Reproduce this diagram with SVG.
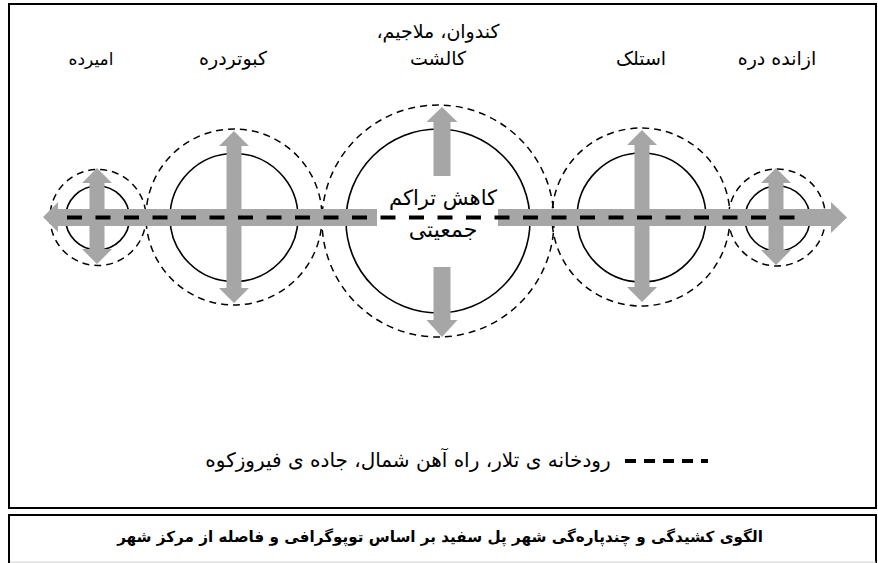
<svg xmlns="http://www.w3.org/2000/svg" width="878" height="563" viewBox="0 0 878 563">
<style>
.bg{fill:#ffffff}
.frame{fill:none;stroke:#000;stroke-width:2}
.dc{fill:none;stroke:#000;stroke-width:1.5;stroke-dasharray:7 5}
.sc{fill:none;stroke:#000;stroke-width:1.6}
.ar{fill:#a6a6a6;stroke:none}
.road{fill:none;stroke:#000;stroke-width:4;stroke-dasharray:15 13.5}
.t{font-family:"DejaVu Sans",sans-serif;font-size:19px;fill:#000;text-anchor:middle;direction:rtl}
.c{font-family:"DejaVu Sans",sans-serif;font-size:15.2px;font-weight:bold;fill:#000;text-anchor:middle;direction:rtl}
</style>
<rect class="bg" x="0" y="0" width="878" height="563"/>
<rect class="frame" x="9" y="4" width="867" height="504"/>
<path class="frame" d="M9,570 V515 H876 V570"/>
<line x1="10" y1="562" x2="876" y2="562" stroke="#d0d0d0" stroke-width="1"/>

<g id="amirdeh">
<circle class="dc" cx="98" cy="217.5" r="48"/>
<circle class="sc" cx="97.5" cy="218" r="32"/>
<polygon class="ar" points="97,168 112,183 104.5,183 104.5,249 112,249 97,264 82,249 89.5,249 89.5,183 82,183"/>
<text class="t" x="91" y="65" style="font-size:17px">امیرده</text>
</g>

<g id="kabutardareh">
<circle class="dc" cx="234" cy="217" r="88"/>
<circle class="sc" cx="234" cy="217.5" r="64"/>
<polygon class="ar" points="234,131 249,146 241.5,146 241.5,288 249,288 234,303 219,288 226.5,288 226.5,146 219,146"/>
<text class="t" x="233" y="65">کبوتردره</text>
</g>

<g id="kalesht">
<circle class="dc" cx="438" cy="221" r="116"/>
<circle class="sc" cx="438" cy="221" r="92"/>
<polygon class="ar" points="442,107 457.5,122 450.5,122 450.5,176 433.5,176 433.5,122 426.5,122"/>
<polygon class="ar" points="442,337 457.5,320 450.5,320 450.5,267 433.5,267 433.5,320 426.5,320"/>
<text class="t" x="438" y="38">کندوان، ملاجیم،</text>
<text class="t" x="438" y="65">کالشت</text>
<text class="t" x="443" y="205" style="font-size:21px">کاهش تراکم</text>
<text class="t" x="443" y="237" style="font-size:22px">جمعیتی</text>
</g>

<g id="estalak">
<circle class="dc" cx="641" cy="217" r="89"/>
<circle class="sc" cx="641.5" cy="217.5" r="64.5"/>
<polygon class="ar" points="642,130 657,145 649.5,145 649.5,287 657,287 642,302 627,287 634.5,287 634.5,145 627,145"/>
<text class="t" x="641" y="65">استلک</text>
</g>

<g id="azandareh">
<circle class="dc" cx="777" cy="217.5" r="48.5"/>
<circle class="sc" cx="777.5" cy="218.5" r="32.5"/>
<polygon class="ar" points="776,168 791,183 783.5,183 783.5,250 791,250 776,265 761,250 768.5,250 768.5,183 761,183"/>
<text class="t" x="777" y="65">ازانده دره</text>
</g>

<g id="connectors">
<polygon class="ar" points="43,217 58,202 58,209 377,209 377,226 58,226 58,232"/>
<polygon class="ar" points="847,217.5 831,202 831,209 498,209 498,226 831,226 831,233"/>
<line class="road" x1="67" y1="217.5" x2="800" y2="217.5"/>
</g>

<g id="legend">
<line x1="625" y1="461" x2="708" y2="461" stroke="#000" stroke-width="4" stroke-dasharray="11 8"/>
<text class="t" x="408" y="467" style="font-size:20px">رودخانه ی تلار، راه آهن شمال، جاده ی فیروزکوه</text>
</g>

<g id="caption">
<text class="c" x="440" y="542">الگوی کشیدگی و چندپاره‌گی شهر پل سفید بر اساس توپوگرافی و فاصله از مرکز شهر</text>
</g>
</svg>
